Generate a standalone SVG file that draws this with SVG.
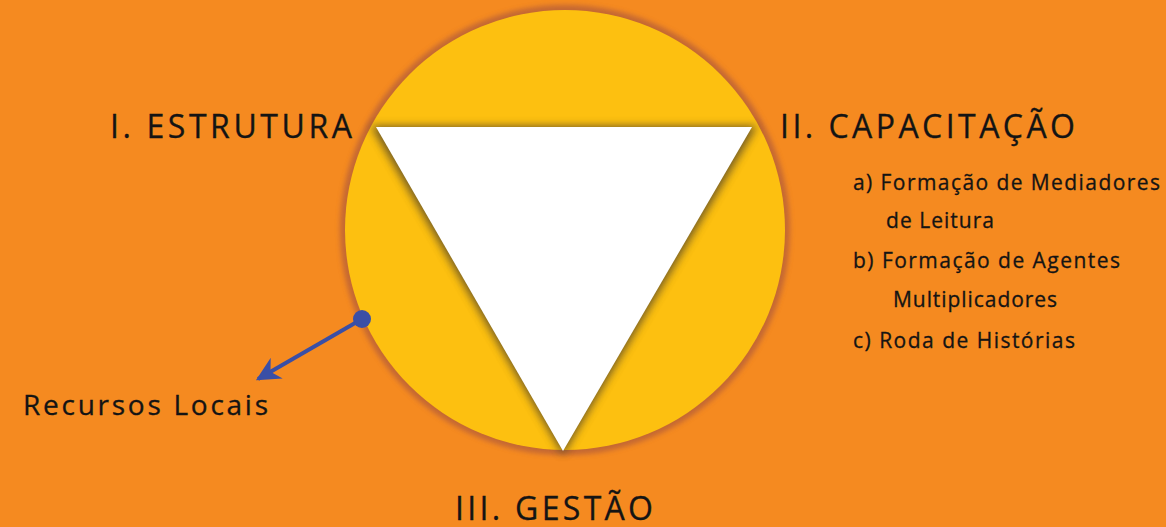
<svg xmlns="http://www.w3.org/2000/svg" width="1166" height="527" viewBox="0 0 1166 527">
<defs>
<style>
.t{font-family:"Open Sans","Noto Sans",sans-serif;fill:#141414;stroke:#141414;stroke-width:0.3}
.h{font-size:32px}
.s{font-size:21px}
</style>
<filter id="sh" x="-20%" y="-20%" width="140%" height="140%"><feGaussianBlur stdDeviation="4"/></filter>
<filter id="bl" x="-20%" y="-20%" width="140%" height="140%"><feGaussianBlur stdDeviation="2.5"/></filter>
<marker id="ah" viewBox="0 0 10 10" refX="9" refY="5" markerWidth="6" markerHeight="6" orient="auto"><path d="M0,0 L10,5 L0,10 L3,5 z" fill="#3A4FA6"/></marker>
</defs>
<rect width="1166" height="527" fill="#F58A20"/>
<g id="circle">
<circle cx="565" cy="230" r="225" fill="#B05A3A" opacity="0.7" filter="url(#bl)"/>
<circle cx="565" cy="230" r="220" fill="#FDC010"/>
<polygon points="371,126 757,126 563,455" fill="#5a4a28" opacity="0.85" filter="url(#sh)"/>
<polygon points="376,127 752,127 563,451" fill="#FFFFFF"/>
</g>
<g id="labels">
<text class="t h" x="110" y="138" textLength="242" lengthAdjust="spacing">I. ESTRUTURA</text>
<text class="t h" x="780" y="138" textLength="295" lengthAdjust="spacing">II. CAPACITAÇÃO</text>
<text class="t h" x="455" y="520" textLength="198" lengthAdjust="spacing">III. GESTÃO</text>
<text class="t" x="23" y="415" style="font-size:28px" textLength="245" lengthAdjust="spacing">Recursos Locais</text>
</g>
<g id="list" class="t s">
<text x="853" y="190" textLength="307" lengthAdjust="spacing">a) Formação de Mediadores</text>
<text x="886" y="228" textLength="108" lengthAdjust="spacing">de Leitura</text>
<text x="853" y="268" textLength="267" lengthAdjust="spacing">b) Formação de Agentes</text>
<text x="893" y="307" textLength="164" lengthAdjust="spacing">Multiplicadores</text>
<text x="853" y="348" textLength="222" lengthAdjust="spacing">c) Roda de Histórias</text>
</g>
<g id="connectors">
<line x1="362" y1="319" x2="258" y2="379" stroke="#3A4FA6" stroke-width="4" marker-end="url(#ah)"/>
<circle cx="362" cy="319" r="9" fill="#3A4FA6"/>
</g>
</svg>
